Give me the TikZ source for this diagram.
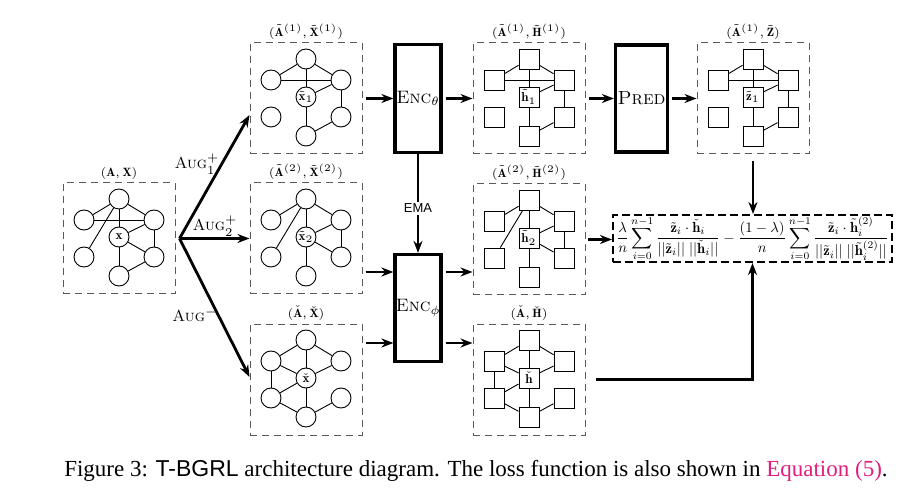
\documentclass[tikz,border=0pt]{standalone}
\usepackage{fontspec}
\usepackage{graphicx}
\usetikzlibrary{arrows.meta,calc}
\newfontfamily\capserif{Liberation Serif}
\newfontfamily\capsans{Liberation Sans}
\definecolor{linkpink}{RGB}{225,30,125}
\tikzset{
  gbox/.style={draw=black!65, dash pattern=on 3.5pt off 2.5pt, line width=0.5pt,
    minimum width=56pt, minimum height=55.5pt, inner sep=0pt},
  vcirc/.style={circle, draw, line width=0.45pt, minimum size=10pt, inner sep=0pt,
    font=\fontsize{6.5}{7}\selectfont, fill=white},
  vsq/.style={rectangle, draw, line width=0.45pt, minimum size=10pt, inner sep=0pt,
    font=\fontsize{6.5}{7}\selectfont, fill=white},
  gedge/.style={line width=0.45pt},
  glabel/.style={font=\fontsize{6}{7}\selectfont, inner sep=1.5pt, anchor=south},
  blk/.style={draw, line width=1.6pt, inner sep=0pt},
  arr/.style={line width=1.4pt, -{Stealth[length=6pt,width=4.5pt]}},
  losstyle/.style={draw, line width=1pt, dash pattern=on 4pt off 2pt, inner sep=0.5pt,
    minimum width=139.5pt, minimum height=22.5pt},
  auglbl/.style={font=\fontsize{8}{9}\selectfont, inner sep=0pt},
}
% #1 prefix, #2 x, #3 y, #4 node style, #5 centre label, #6 edges, #7 box label
\newcommand\drawgraph[7]{%
  \node[gbox] (#1-box) at (#2,{#3+1.5}) {};
  \node[glabel] (#1-lab) at (#1-box.north) {#7};
  \foreach \n/\dx/\dy in {t/0/-38,lu/-35/-17,ru/35/-17,ll/-35/20,rl/35/20,b/0/39}
    \node[#4] (#1-\n) at ({#2+\dx},{#3+\dy}) {};
  \node[#4] (#1-c) at (#2,#3) {#5};
  \foreach \a/\b in {#6} \draw[gedge] (#1-\a) -- (#1-\b);
}
\begin{document}
\begin{tikzpicture}[x=0.5pt,y=-0.5pt]
\useasboundingbox (0,0) rectangle (914,491);

% graphs
\drawgraph{g0}{119}{237}{vcirc}{$\mathbf{x}$}
  {t/lu,t/ru,t/c,lu/ru,t/ll,c/ru,c/rl,ru/rl,c/b,b/rl}{$(\mathbf{A},\mathbf{X})$}
\drawgraph{g1}{306}{97}{vcirc}{$\tilde{\mathbf{x}}_1$}
  {t/lu,t/ru,t/c,lu/ru,c/ru,ru/rl,c/b,b/rl}{$(\tilde{\mathbf{A}}^{(1)},\tilde{\mathbf{X}}^{(1)})$}
\drawgraph{g2}{306}{237}{vcirc}{$\tilde{\mathbf{x}}_2$}
  {t/lu,t/ru,t/c,t/ll,c/ru,c/rl,ru/rl,c/b}{$(\tilde{\mathbf{A}}^{(2)},\tilde{\mathbf{X}}^{(2)})$}
\drawgraph{g3}{306}{378}{vcirc}{$\check{\mathbf{x}}$}
  {t/lu,t/ru,t/c,lu/c,ru/c,lu/ll,c/ll,c/b,ll/b,b/rl}{$(\check{\mathbf{A}},\check{\mathbf{X}})$}
\drawgraph{h1}{529}{97}{vsq}{$\tilde{\mathbf{h}}_1$}
  {t/lu,t/ru,t/c,lu/ru,c/ru,ru/rl,c/b,b/rl}{$(\tilde{\mathbf{A}}^{(1)},\tilde{\mathbf{H}}^{(1)})$}
\drawgraph{h2}{529}{238}{vsq}{$\tilde{\mathbf{h}}_2$}
  {t/lu,t/ru,t/c,t/ll,c/ru,c/rl,ru/rl,c/b}{$(\tilde{\mathbf{A}}^{(2)},\tilde{\mathbf{H}}^{(2)})$}
\drawgraph{hc}{529}{378}{vsq}{$\check{\mathbf{h}}$}
  {t/lu,t/ru,t/c,lu/c,ru/c,lu/ll,c/ll,c/b,ll/b,b/rl}{$(\check{\mathbf{A}},\check{\mathbf{H}})$}
\drawgraph{z}{753}{97}{vsq}{$\tilde{\mathbf{z}}_1$}
  {t/lu,t/ru,t/c,lu/ru,c/ru,ru/rl,c/b,b/rl}{$(\tilde{\mathbf{A}}^{(1)},\tilde{\mathbf{Z}})$}

% blocks
\node[blk, minimum width=23pt, minimum height=54pt, font=\fontsize{9}{10}\selectfont]
  (enct) at (418,98.5) {\textsc{Enc}$_\theta$};
\node[blk, minimum width=23pt, minimum height=53.5pt, font=\fontsize{9}{10}\selectfont]
  (encp) at (418,308) {\textsc{Enc}$_\phi$};
\node[blk, minimum width=26pt, minimum height=53.5pt, font=\fontsize{9.5}{10}\selectfont]
  (pred) at (641.5,98.5) {\textsc{Pred}};

% loss
\node[losstyle] (loss) at (752.5,238.5) {\resizebox{136pt}{!}{$\displaystyle
  \frac{\lambda}{n}\sum_{i=0}^{n-1}\frac{\tilde{\mathbf z}_i\cdot\check{\mathbf h}_i}{||\tilde{\mathbf z}_i||\;||\check{\mathbf h}_i||}
  -\frac{(1-\lambda)}{n}\sum_{i=0}^{n-1}\frac{\tilde{\mathbf z}_i\cdot\tilde{\mathbf h}_i^{(2)}}{||\tilde{\mathbf z}_i||\;||\tilde{\mathbf h}_i^{(2)}||}$}};

% augmentation arrows
\coordinate (augsrc) at ([xshift=2pt]g0-box.east);
\draw[arr] (augsrc) -- ([yshift=-8.25pt]g1-box.west);
\draw[arr] (augsrc) -- (g2-box.west);
\draw[arr] (augsrc) -- ([yshift=1.25pt]g3-box.west);
\node[auglbl] (aug1) at (197,164) {\textsc{Aug}$_1^+$};
\node[auglbl] (aug2) at (215,226) {\textsc{Aug}$_2^+$};
\node[auglbl] (aug3) at (195,315) {\textsc{Aug}$^-$};

% row 1
\draw[arr, shorten <=1.5pt] (g1-box) -- (enct);
\draw[arr, shorten <=1.5pt] (enct) -- (h1-box);
\draw[arr, shorten <=1.5pt] (h1-box) -- (pred);
\draw[arr, shorten <=1.5pt] (pred) -- (z-box);

% EMA
\draw[arr] (enct) -- (encp) node[pos=0.55, fill=white, inner sep=1pt,
  font=\capsans\fontsize{6.5}{7}\selectfont] (ema) {EMA};

% rows 2 and 3
\draw[arr, shorten <=1.5pt] ([yshift=-16.75pt]g2-box.east) coordinate (r2a) -- (r2a -| encp.west);
\draw[arr, shorten <=1.5pt] ([yshift=18.25pt]g3-box.east) coordinate (r3a) -- (r3a -| encp.west);
\draw[arr, shorten <=1.5pt] (r2a -| encp.east) -- (r2a -| h2-box.west);
\draw[arr, shorten <=1.5pt] (r3a -| encp.east) -- (r3a -| hc-box.west);

% to loss
\draw[arr, shorten <=1pt] (h2-box.east) -- (h2-box.east -| loss.west);
\draw[arr, shorten <=3.5pt] (z-box.south) -- (z-box.south |- loss.north);
\draw[arr] ([xshift=5pt]hc-box.east) -| (loss.south);

% caption
\node[font=\capserif\fontsize{11.5}{13}\selectfont, inner sep=0pt] (cap) at (476,471)
  {Figure 3: {\capsans T-BGRL} architecture diagram. The loss function is also shown in \textcolor{linkpink}{Equation (5)}.};
\end{tikzpicture}
\end{document}
